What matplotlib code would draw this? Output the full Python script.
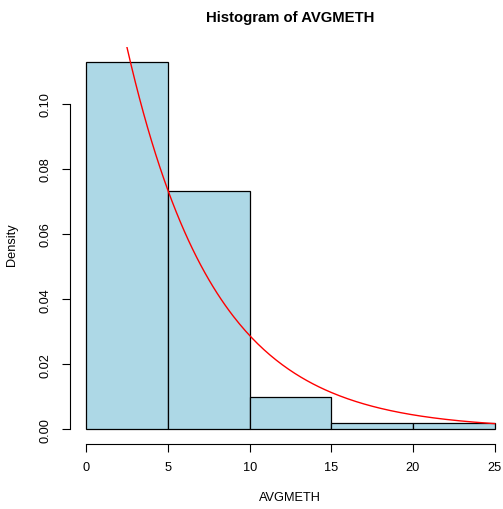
"""
R-style histogram of AVGMETH with fitted exponential density
"""

import numpy as np
import matplotlib
matplotlib.use("Agg")
import matplotlib.pyplot as plt

plt.rcParams['font.family'] = ['Liberation Sans', 'DejaVu Sans']

# histogram bins and densities
bin_edges = [0, 5, 10, 15, 20, 25]
densities = [0.113, 0.0733, 0.010, 0.002, 0.002]

# fitted exponential rate
exp_rate = 0.187

x_ticks = [0, 5, 10, 15, 20, 25]
y_ticks = [0.00, 0.02, 0.04, 0.06, 0.08, 0.10]

W, H = 503, 510
fig = plt.figure(figsize=(W / 100, H / 100), dpi=100)

# plot region in pixels: left 70, right 511 (past edge, like R's 4% extension), top 48, bottom 445
ax = fig.add_axes([70 / W, (H - 445) / H, 441 / W, (445 - 48) / H])

lefts = bin_edges[:-1]
widths = np.diff(bin_edges)
ax.bar(lefts, densities, width=widths, align='edge', color='#ADD8E6',
       edgecolor='black', linewidth=0.9)

xs = np.linspace(0, 25, 201)
ax.plot(xs, exp_rate * np.exp(-exp_rate * xs), color='red', linewidth=1.0)

ymax = max(densities)
ax.set_xlim(-0.04 * 25, 25 * 1.04)
ax.set_ylim(-0.04 * ymax, ymax * 1.04)

for side in ['top', 'right']:
    ax.spines[side].set_visible(False)
ax.spines['left'].set_bounds(0, 0.10)
ax.spines['bottom'].set_bounds(0, 25)
for side in ['left', 'bottom']:
    ax.spines[side].set_linewidth(0.8)

ax.set_xticks(x_ticks)
ax.set_xticklabels([str(t) for t in x_ticks])
ax.set_yticks(y_ticks)
ax.set_yticklabels([f"{t:.2f}" for t in y_ticks], rotation=90, va='center')
ax.tick_params(axis='x', length=5.5, width=0.8, pad=7, labelsize=9.2)
ax.tick_params(axis='y', length=5.5, width=0.8, pad=7.5, labelsize=9.2)

fig.text(290 / W, 1 - 18 / H, 'Histogram of AVGMETH', ha='center', va='center',
         fontsize=10.7, fontweight='bold')
fig.text(290 / W, 1 - 498 / H, 'AVGMETH', ha='center', va='center', fontsize=9.2)
fig.text(12 / W, 1 - 245 / H, 'Density', ha='center', va='center', rotation=90,
         fontsize=9.2)

fig.savefig('out.png', dpi=100)
plt.close(fig)
